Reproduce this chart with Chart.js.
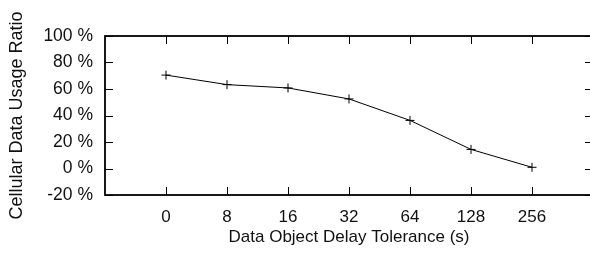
<!DOCTYPE html>
<html>
<head>
<meta charset="utf-8">
<script src="https://cdn.jsdelivr.net/npm/chart.js@4/dist/chart.umd.min.js"></script>
<style>
  html, body { margin: 0; padding: 0; background: #fff; overflow: hidden; }
</style>
</head>
<body>
<canvas id="myChart" width="600" height="255"></canvas>
<script>
const categories = ['0', '8', '16', '32', '64', '128', '256'];
const usageRatio = [70.5, 63.3, 60.8, 52.5, 36.3, 14.4, 0.9];
const yTicks = [-20, 0, 20, 40, 60, 80, 100];

let points = [];
for (let i = 0; i < categories.length; i++) {
    points.push({ x: i, y: usageRatio[i] });
}

// gnuplot style frame with inward ticks on all four sides
const framePlugin = {
    id: 'frame',
    afterDraw(chart) {
        const ctx = chart.ctx;
        const a = chart.chartArea;
        const xs = chart.scales.x;
        const ys = chart.scales.y;
        const len = 8;
        ctx.save();
        ctx.strokeStyle = '#000';
        ctx.lineWidth = 1;
        ctx.beginPath();
        for (let i = 0; i < categories.length; i++) {
            const px = Math.round(xs.getPixelForValue(i)) + 0.5;
            ctx.moveTo(px, a.bottom); ctx.lineTo(px, a.bottom - len);
            ctx.moveTo(px, a.top); ctx.lineTo(px, a.top + len);
        }
        for (let i = 0; i < yTicks.length; i++) {
            const py = Math.round(ys.getPixelForValue(yTicks[i])) + 0.5;
            ctx.moveTo(a.left, py); ctx.lineTo(a.left + len, py);
            ctx.moveTo(a.right, py); ctx.lineTo(a.right - len, py);
        }
        ctx.stroke();
        ctx.lineWidth = 1.8;
        ctx.strokeRect(a.left, a.top, a.right - a.left, a.bottom - a.top);
        ctx.restore();
    }
};

Chart.defaults.font.family = '"Liberation Sans", Arial, sans-serif';
Chart.defaults.color = '#111';

let ctx = document.getElementById('myChart').getContext('2d');
let myChart = new Chart(ctx, {
    type: 'line',
    data: {
        datasets: [{
            data: points,
            borderColor: '#000',
            borderWidth: 1,
            pointStyle: 'cross',
            pointRadius: 4.5,
            pointBorderWidth: 1,
            pointBorderColor: '#000',
            tension: 0
        }]
    },
    options: {
        responsive: false,
        animation: false,
        layout: { padding: { top: 36, right: 7, left: 0, bottom: 0 } },
        plugins: { legend: { display: false }, tooltip: { enabled: false } },
        scales: {
            x: {
                type: 'linear',
                min: -1,
                max: 7,
                afterFit(scale) { scale.height = 60; },
                afterBuildTicks(scale) {
                    scale.ticks = categories.map((c, i) => ({ value: i }));
                },
                grid: { display: false, drawTicks: false },
                border: { display: false },
                ticks: {
                    autoSkip: false,
                    maxRotation: 0,
                    padding: 12,
                    font: { size: 17 },
                    callback: v => categories[v] ?? ''
                },
                title: {
                    display: true,
                    text: 'Data Object Delay Tolerance (s)',
                    font: { size: 17 },
                    padding: { top: 0, bottom: 7 }
                }
            },
            y: {
                min: -20,
                max: 100,
                afterFit(scale) { scale.width = 105; },
                afterBuildTicks(scale) {
                    scale.ticks = yTicks.map(v => ({ value: v }));
                },
                grid: { display: false, drawTicks: false },
                border: { display: false },
                ticks: {
                    padding: 12,
                    font: { size: 17.5 },
                    callback: v => v + ' %'
                },
                title: {
                    display: true,
                    text: 'Cellular Data Usage Ratio',
                    font: { size: 18 },
                    padding: { top: 6, bottom: 0 }
                }
            }
        }
    },
    plugins: [framePlugin]
});
</script>
</body>
</html>
